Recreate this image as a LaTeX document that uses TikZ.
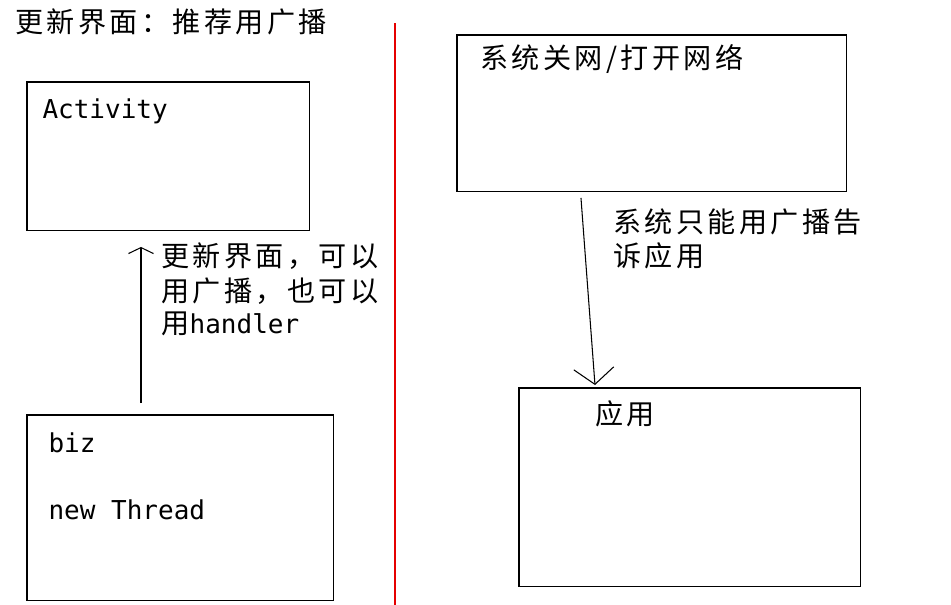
\documentclass[tikz,border=0pt]{standalone}
\usepackage{fontspec}
\setmainfont{DejaVu Sans Mono}
\newfontfamily\cjk[LetterSpace=12]{Noto Sans CJK SC}
\usetikzlibrary{arrows.meta,positioning}

\begin{document}
\begin{tikzpicture}[x=0.02cm, y=-0.02cm, line width=0.6pt,
  box/.style={draw=black, rectangle, inner sep=0pt, outer sep=0pt, anchor=north west},
  lbl/.style={inner sep=0pt, anchor=base west, font=\fontsize{14.8}{18}\selectfont},
  zh/.style={inner sep=0pt, anchor=base west, font=\cjk\fontsize{16}{20}\selectfont}]
  \useasboundingbox (0,0) rectangle (951,605);

  \node[zh] (title) at (15,32) {更新界面：推荐用广播};
  \draw[red!90!black] (395,23) -- (395,605);

  \node[box, minimum width=5.66cm, minimum height=2.98cm] (activity) at (27,82) {};
  \node[lbl] (activitytxt) at (42,118) {Activity};
  \node[box, minimum width=6.14cm, minimum height=3.72cm] (biz) at (27,415) {};
  \node[lbl] (biztxt) at (48,452) {biz};
  \node[lbl] (threadtxt) at (48,519) {new Thread};

  \node[zh] (up1) at (161,266) {更新界面，可以};
  \node[zh] (up2) at (161,301) {用广播，也可以};
  \node[lbl] (up3) at (161,333) {{\cjk\fontsize{16}{20}\selectfont 用}handler};

  \node[box, minimum width=7.8cm, minimum height=3.14cm] (sys) at (457,35) {};
  \node[zh] (systxt) at (480,69) {系统关网/打开网络};
  \node[box, minimum width=6.84cm, minimum height=3.98cm] (app) at (519,388) {};
  \node[zh] (apptxt) at (595,424) {应用};

  \node[zh] (tell1) at (613,232) {系统只能用广播告};
  \node[zh] (tell2) at (613,266) {诉应用};

  \draw[-{Straight Barb[length=0.12cm,width=0.5cm]}]
    ([xshift=2.28cm,yshift=0.24cm]biz.north west) -- ([xshift=2.28cm,yshift=-0.32cm]activity.south west);
  \draw[-{Straight Barb[length=0.32cm,width=0.8cm]}]
    ([xshift=2.48cm,yshift=-0.12cm]sys.south west) -- ([xshift=1.52cm,yshift=0.06cm]app.north west);
\end{tikzpicture}
\end{document}
